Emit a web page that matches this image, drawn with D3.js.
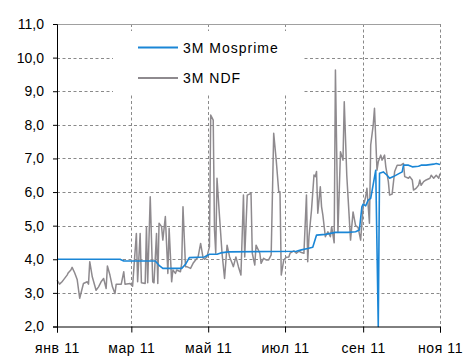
<!DOCTYPE html>
<html>
<head>
<meta charset="utf-8">
<script src="https://cdn.jsdelivr.net/npm/d3@7"></script>
<style>
  html, body { margin: 0; padding: 0; background: #fff; }
  svg { display: block; font-family: "Liberation Sans", Arial, sans-serif; }
</style>
</head>
<body>
<svg id="chart" width="463" height="357"></svg>
<script>
// Axis ticks
const tickDates = ["2011-01-01", "2011-03-01", "2011-05-01", "2011-07-01", "2011-09-01", "2011-11-01"];
const tickLabels = ["янв 11", "мар 11", "май 11", "июл 11", "сен 11", "ноя 11"];
const yTicks = [2, 3, 4, 5, 6, 7, 8, 9, 10, 11];

// Series names
const seriesNames = ["3M Mosprime", "3M NDF"];

// 3M Mosprime, %
const mosDates = [
  "2011-01-01", "2011-02-20", "2011-02-23", "2011-03-20", "2011-03-23", "2011-03-26",
  "2011-04-10", "2011-04-13", "2011-04-16", "2011-04-28", "2011-05-02", "2011-05-08",
  "2011-05-11", "2011-05-17", "2011-07-10", "2011-07-14", "2011-07-19", "2011-07-23",
  "2011-07-26", "2011-08-02", "2011-08-06", "2011-08-10", "2011-08-20", "2011-08-26",
  "2011-08-29", "2011-08-31", "2011-09-01", "2011-09-03", "2011-09-05", "2011-09-07",
  "2011-09-11", "2011-09-13", "2011-09-14", "2011-09-17", "2011-09-20", "2011-09-22",
  "2011-09-25", "2011-09-29", "2011-10-02", "2011-10-03", "2011-10-07", "2011-10-10",
  "2011-10-15", "2011-10-17", "2011-10-21", "2011-10-27", "2011-10-29", "2011-11-01"
];
const mosValues = [
  4.00, 4.00, 3.95, 3.95, 3.82, 3.73,
  3.73, 3.85, 4.05, 4.07, 4.15, 4.15,
  4.19, 4.22, 4.24, 4.28, 4.32, 4.36,
  4.72, 4.74, 4.77, 4.80, 4.80, 4.82,
  4.87, 5.56, 5.64, 5.59, 5.76, 5.81,
  6.65, 2.00, 6.56, 6.60, 6.50, 6.41,
  6.46, 6.54, 6.60, 6.80, 6.80, 6.75,
  6.77, 6.80, 6.80, 6.83, 6.85, 6.82
];

// 3M NDF, %
const ndfDates = [
  "2011-01-01", "2011-01-03", "2011-01-05", "2011-01-06", "2011-01-09", "2011-01-10",
  "2011-01-12", "2011-01-13", "2011-01-15", "2011-01-17", "2011-01-19", "2011-01-22",
  "2011-01-25", "2011-01-26", "2011-01-27", "2011-01-29", "2011-02-01", "2011-02-03",
  "2011-02-05", "2011-02-07", "2011-02-09", "2011-02-10", "2011-02-12", "2011-02-14",
  "2011-02-16", "2011-02-17", "2011-02-21", "2011-02-23", "2011-02-24", "2011-02-28",
  "2011-03-02", "2011-03-05", "2011-03-06", "2011-03-08", "2011-03-09", "2011-03-12",
  "2011-03-13", "2011-03-14", "2011-03-16", "2011-03-18", "2011-03-19", "2011-03-21",
  "2011-03-22", "2011-03-23", "2011-03-25", "2011-03-26", "2011-03-28", "2011-03-30",
  "2011-03-31", "2011-04-02", "2011-04-03", "2011-04-05", "2011-04-06", "2011-04-09",
  "2011-04-10", "2011-04-11", "2011-04-13", "2011-04-14", "2011-04-17", "2011-04-19",
  "2011-04-21", "2011-04-23", "2011-04-25", "2011-04-27", "2011-04-28", "2011-04-30",
  "2011-05-02", "2011-05-03", "2011-05-05", "2011-05-06", "2011-05-07", "2011-05-08",
  "2011-05-10", "2011-05-12", "2011-05-14", "2011-05-16", "2011-05-18", "2011-05-20",
  "2011-05-21", "2011-05-23", "2011-05-25", "2011-05-27", "2011-05-29", "2011-05-30",
  "2011-06-01", "2011-06-04", "2011-06-05", "2011-06-07", "2011-06-08", "2011-06-11",
  "2011-06-12", "2011-06-14", "2011-06-16", "2011-06-18", "2011-06-20", "2011-06-22",
  "2011-06-24", "2011-06-26", "2011-06-27", "2011-06-28", "2011-06-30", "2011-07-02",
  "2011-07-04", "2011-07-05", "2011-07-08", "2011-07-10", "2011-07-12", "2011-07-14",
  "2011-07-16", "2011-07-18", "2011-07-19", "2011-07-20", "2011-07-22", "2011-07-24",
  "2011-07-25", "2011-07-26", "2011-07-27", "2011-07-29", "2011-07-30", "2011-07-31",
  "2011-08-02", "2011-08-04", "2011-08-06", "2011-08-07", "2011-08-09", "2011-08-10",
  "2011-08-12", "2011-08-14", "2011-08-16", "2011-08-17", "2011-08-19", "2011-08-22",
  "2011-08-24", "2011-08-26", "2011-08-28", "2011-08-30", "2011-09-01", "2011-09-03",
  "2011-09-04", "2011-09-06", "2011-09-07", "2011-09-09", "2011-09-10", "2011-09-12",
  "2011-09-13", "2011-09-15", "2011-09-16", "2011-09-18", "2011-09-19", "2011-09-21",
  "2011-09-22", "2011-09-24", "2011-09-26", "2011-09-28", "2011-10-01", "2011-10-03",
  "2011-10-04", "2011-10-07", "2011-10-08", "2011-10-10", "2011-10-11", "2011-10-13",
  "2011-10-15", "2011-10-16", "2011-10-17", "2011-10-19", "2011-10-21", "2011-10-24",
  "2011-10-25", "2011-10-27", "2011-10-29", "2011-10-31", "2011-11-01"
];
const ndfValues = [
  3.38, 3.26, 3.33, 3.38, 3.53, 3.60,
  3.68, 3.76, 3.60, 3.40, 2.84, 3.28,
  3.33, 3.26, 3.93, 3.48, 3.08, 3.18,
  3.33, 3.43, 3.13, 3.80, 3.53, 3.18,
  2.98, 3.26, 3.26, 3.63, 3.26, 3.28,
  3.20, 4.77, 3.33, 4.77, 3.30, 3.28,
  4.97, 3.30, 5.86, 3.33, 3.30, 4.77,
  3.28, 5.07, 4.97, 4.57, 5.27, 3.58,
  4.92, 3.33, 3.68, 3.58, 3.68, 3.63,
  3.88, 5.56, 3.78, 3.78, 3.73, 3.88,
  3.98, 4.07, 4.47, 4.03, 4.00, 4.07,
  4.37, 8.29, 8.14, 4.87, 4.18, 6.41,
  5.27, 4.18, 3.43, 4.42, 4.07, 3.88,
  3.78, 4.07, 3.78, 3.53, 5.91, 4.07,
  5.91, 5.96, 4.18, 3.83, 4.42, 4.18,
  3.88, 4.03, 3.98, 3.98, 4.13, 7.75,
  6.95, 6.01, 6.01, 3.53, 3.98, 4.06,
  4.07, 4.18, 4.25, 4.18, 4.24, 4.20,
  4.18, 5.91, 3.93, 4.67, 5.46, 6.51,
  6.46, 6.61, 5.37, 6.16, 5.56, 5.32,
  4.67, 4.82, 4.67, 4.97, 4.49, 9.63,
  4.80, 7.20, 6.95, 8.69, 6.50, 4.57,
  5.41, 5.00, 4.95, 4.57, 5.56, 5.86,
  6.11, 5.07, 7.40, 8.00, 8.49, 6.65,
  6.90, 7.10, 6.95, 7.10, 6.75, 6.31,
  5.91, 5.94, 6.61, 6.80, 6.80, 6.85,
  6.46, 6.41, 6.46, 6.36, 6.06, 6.11,
  6.20, 6.36, 6.20, 6.31, 6.36, 6.41,
  6.50, 6.41, 6.50, 6.41, 6.55
];

const parse = d3.timeParse("%Y-%m-%d");
const mosprime = mosDates.map((d, i) => ({ date: parse(d), value: mosValues[i] }));
const ndf = ndfDates.map((d, i) => ({ date: parse(d), value: ndfValues[i] }));

const svg = d3.select("#chart");
const plot = { left: 57, right: 440, top: 24, bottom: 326.5 };

const x = d3.scaleTime()
  .domain([parse("2011-01-01"), parse("2011-11-01")])
  .range([plot.left, plot.right]);
const y = d3.scaleLinear().domain([2, 11]).range([plot.bottom, plot.top]);

const gridColor = "#8a8a8a";

// Horizontal gridlines
svg.append("g")
  .selectAll("line")
  .data(yTicks.filter(v => v > 2 && v < 11))
  .join("line")
  .attr("x1", plot.left).attr("x2", plot.right)
  .attr("y1", d => Math.round(y(d)) + 0.5).attr("y2", d => Math.round(y(d)) + 0.5)
  .attr("stroke", gridColor).attr("stroke-width", 1)
  .attr("stroke-dasharray", "3,2.5");

// Vertical gridlines
svg.append("g")
  .selectAll("line")
  .data(tickDates.slice(1))
  .join("line")
  .attr("x1", d => Math.round(x(parse(d))) + 0.5).attr("x2", d => Math.round(x(parse(d))) + 0.5)
  .attr("y1", plot.top).attr("y2", plot.bottom)
  .attr("stroke", gridColor).attr("stroke-width", 1)
  .attr("stroke-dasharray", "3,2.5");

// Top border of the plot
svg.append("line")
  .attr("x1", plot.left).attr("x2", plot.right)
  .attr("y1", Math.round(y(11)) + 0.5).attr("y2", Math.round(y(11)) + 0.5)
  .attr("stroke", "#a0a0a0").attr("stroke-width", 1);

// Legend box (white, covers the gridlines behind it)
const legend = svg.append("g");
legend.append("rect")
  .attr("x", 113).attr("y", 31).attr("width", 189).attr("height", 63)
  .attr("fill", "#fff");

const seriesColors = ["#1a86d6", "#8e8a8e"];
seriesNames.forEach((name, i) => {
  const ly = 47.5 + i * 30.5;
  legend.append("line")
    .attr("x1", 138).attr("x2", 178).attr("y1", ly).attr("y2", ly)
    .attr("stroke", seriesColors[i]).attr("stroke-width", 2);
  legend.append("text")
    .attr("x", 183).attr("y", ly + 5)
    .attr("font-size", 14).attr("letter-spacing", 1)
    .attr("fill", "#000")
    .text(name);
});

// Series lines
const line = d3.line().x(d => x(d.date)).y(d => y(d.value));

svg.append("path")
  .datum(ndf)
  .attr("fill", "none")
  .attr("stroke", seriesColors[1])
  .attr("stroke-width", 1.5)
  .attr("stroke-linejoin", "round")
  .attr("d", line);

svg.append("path")
  .datum(mosprime)
  .attr("fill", "none")
  .attr("stroke", seriesColors[0])
  .attr("stroke-width", 1.6)
  .attr("stroke-linejoin", "round")
  .attr("d", line);

// Axes
const yAxis = d3.axisLeft(y)
  .tickValues(yTicks)
  .tickSize(4)
  .tickPadding(9)
  .tickFormat(d => d3.format(".1f")(d).replace(".", ","));
const gy = svg.append("g")
  .attr("transform", `translate(${plot.left},0)`)
  .call(yAxis);
gy.select(".domain").attr("stroke", "#000");
gy.selectAll(".tick line").attr("stroke", "#000");
gy.selectAll(".tick text")
  .attr("font-size", 14).attr("fill", "#000")
  .attr("font-family", "Liberation Sans, Arial, sans-serif");

const xAxis = d3.axisBottom(x)
  .tickValues(tickDates.map(parse))
  .tickSize(6)
  .tickPadding(11)
  .tickFormat((d, i) => tickLabels[i]);
const gx = svg.append("g")
  .attr("transform", `translate(0,${plot.bottom})`)
  .call(xAxis);
gx.select(".domain").attr("stroke", "#000");
gx.selectAll(".tick line").attr("stroke", "#000");
gx.selectAll(".tick text")
  .attr("font-size", 14).attr("fill", "#000")
  .attr("letter-spacing", 0.6)
  .attr("font-family", "Liberation Sans, Arial, sans-serif");
</script>
</body>
</html>
